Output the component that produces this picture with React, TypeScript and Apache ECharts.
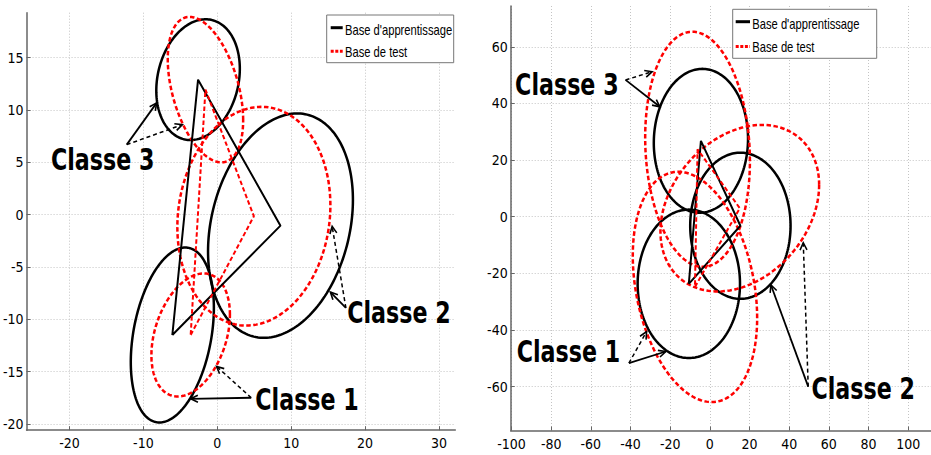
import React, { useEffect, useRef } from 'react';
import * as echarts from 'echarts';

const classNames = ['Classe 1', 'Classe 2', 'Classe 3'];
const legendNames = ["Base d'apprentissage", 'Base de test'];

// Left panel: per-class mean, half-extent along x / y, and x-y correlation
const trainMeanA = [[-6.08, -11.5], [8.55, -1.05], [-2.6, 12.9]];
const trainSpreadA = [[5.62, 8.36], [9.8, 10.72], [5.65, 5.77]];
const trainCorrA = [0.31, 0.23, 0.18];
const testMeanA = [[-3.6, -11.5], [4.95, -0.15], [-1.6, 11.95]];
const testSpreadA = [[5.31, 5.88], [10.35, 10.45], [5.1, 6.95]];
const testCorrA = [0.33, 0.1, -0.42];

// Right panel
const trainMeanB = [[-10.6, -23.7], [15.4, -3.2], [-4.5, 26.8]];
const trainSpreadB = [[25.8, 26.2], [25.3, 25.8], [23.75, 25.4]];
const trainCorrB = [0, 0, 0.03];
const testMeanB = [[-7.5, -24.8], [15.1, 3.0], [-6.2, 23.8]];
const testSpreadB = [[31.35, 40.65], [40, 29.4], [26.4, 41.5]];
const testCorrB = [-0.27, 0.28, -0.1];

// Class labels and their pointer arrows (tail, tip on training ellipse, tip on test ellipse)
const labelPosA = [[12.14, -17.7], [24.57, -9.42], [-15.5, 5.2]];
const arrowTailA = [[4.59, -17.5], [17.4, -8.92], [-12.25, 6.69]];
const arrowTrainA = [[-3.6, -17.6], [15.3, -7.4], [-8.2, 10.68]];
const arrowTestA = [[-0.1, -14.5], [15.54, -1.12], [-4.73, 8.6]];

const labelPosB = [[-71.3, -47.6], [77.3, -60.6], [-72.1, 46.7]];
const arrowTailB = [[-40.8, -51.7], [49.6, -60], [-42.5, 48.3]];
const arrowTrainB = [[-22.2, -47.6], [30.8, -24.1], [-25.2, 38.8]];
const arrowTestB = [[-31.9, -40.6], [47.1, -9.2], [-29.1, 51.2]];

// Axes
const xRangeA = [-25.8, 32.2];
const yRangeA = [-20.6, 19.3];
const xTicksA = [-20, -10, 0, 10, 20, 30];
const yTicksA = [-20, -15, -10, -5, 0, 5, 10, 15];
const xRangeB = [-100.4, 111.5];
const yRangeB = [-75.5, 74.4];
const xTicksB = [-100, -80, -60, -40, -20, 0, 20, 40, 60, 80, 100];
const yTicksB = [-60, -40, -20, 0, 20, 40, 60];

const RED = '#ff0000';
const BLACK = '#000000';
const RED_DASH = [4.5, 2.5];
const TICK_FONT = "'Liberation Sans Narrow', 'DejaVu Sans Condensed', 'Liberation Sans', Arial, sans-serif";

function ellipseSeries(mean: number[][], spread: number[][], corr: number[], grid: number, color: string, dash: number[] | null) {
  return {
    type: 'custom',
    xAxisIndex: grid,
    yAxisIndex: grid,
    dimensions: ['x', 'y', 'sx', 'sy', 'r'],
    encode: { x: 0, y: 1 },
    silent: true,
    data: mean.map((m, i) => [m[0], m[1], spread[i][0], spread[i][1], corr[i]]),
    renderItem: (_params: any, api: any) => {
      const cx = api.value(0);
      const cy = api.value(1);
      const sx = api.value(2);
      const sy = api.value(3);
      const d = Math.acos(api.value(4));
      const pts: number[][] = [];
      const n = 200;
      for (let k = 0; k <= n; k++) {
        const t = (k / n) * Math.PI * 2;
        pts.push(api.coord([cx + sx * Math.cos(t), cy + sy * Math.cos(t - d)]));
      }
      return {
        type: 'polyline',
        shape: { points: pts },
        style: { stroke: color, lineWidth: 2.5, fill: 'none', lineDash: dash },
      };
    },
  };
}

function triangleSeries(mean: number[][], grid: number, color: string, dash: number[] | null) {
  return {
    type: 'line',
    xAxisIndex: grid,
    yAxisIndex: grid,
    symbol: 'none',
    silent: true,
    data: [...mean, mean[0]],
    lineStyle: { color, width: 2, type: dash ? dash : 'solid' },
  };
}

function arrowSeries(tail: number[][], train: number[][], test: number[][], grid: number) {
  const rows: number[][] = [];
  tail.forEach((t, i) => {
    rows.push([t[0], t[1], train[i][0], train[i][1], 0]);
    rows.push([t[0], t[1], test[i][0], test[i][1], 1]);
  });
  return {
    type: 'custom',
    xAxisIndex: grid,
    yAxisIndex: grid,
    dimensions: ['x1', 'y1', 'x2', 'y2', 'dashed'],
    encode: { x: [0, 2], y: [1, 3] },
    silent: true,
    data: rows,
    renderItem: (_params: any, api: any) => {
      const a = api.coord([api.value(0), api.value(1)]);
      const b = api.coord([api.value(2), api.value(3)]);
      const dashed = api.value(4) === 1;
      const ang = Math.atan2(b[1] - a[1], b[0] - a[0]);
      const len = 8;
      const w = 0.45;
      const h1 = [b[0] - len * Math.cos(ang - w), b[1] - len * Math.sin(ang - w)];
      const h2 = [b[0] - len * Math.cos(ang + w), b[1] - len * Math.sin(ang + w)];
      return {
        type: 'group',
        children: [
          {
            type: 'line',
            shape: { x1: a[0], y1: a[1], x2: b[0], y2: b[1] },
            style: { stroke: BLACK, lineWidth: dashed ? 1.5 : 1.8, lineDash: dashed ? [4, 3] : null },
          },
          {
            type: 'polyline',
            shape: { points: [h1, b, h2] },
            style: { stroke: BLACK, lineWidth: 1.6, fill: 'none' },
          },
        ],
      };
    },
  };
}

function labelSeries(pos: number[][], grid: number) {
  return {
    type: 'custom',
    xAxisIndex: grid,
    yAxisIndex: grid,
    encode: { x: 0, y: 1 },
    silent: true,
    data: pos,
    renderItem: (params: any, api: any) => {
      const p = api.coord([api.value(0), api.value(1)]);
      return {
        type: 'text',
        x: p[0],
        y: p[1],
        scaleX: 0.74,
        style: {
          text: classNames[params.dataIndex],
          fontFamily: "'DejaVu Sans', sans-serif",
          fontWeight: 'bold',
          fontSize: 30,
          fill: BLACK,
          align: 'center',
          verticalAlign: 'middle',
        },
      };
    },
  };
}

function xAxis(grid: number, range: number[], ticks: number[]) {
  return {
    type: 'value',
    gridIndex: grid,
    min: range[0],
    max: range[1],
    axisLine: { show: true, onZero: false, lineStyle: { color: '#666', width: 1.5 } },
    axisTick: { show: true, inside: true, length: 4, customValues: ticks, lineStyle: { color: '#666' } },
    axisLabel: { customValues: ticks, color: '#000', fontSize: 14, fontFamily: TICK_FONT, margin: 6 },
    splitLine: { show: true, lineStyle: { color: '#c4c4c4', width: 1, type: [1, 2] } },
  };
}

function yAxis(grid: number, range: number[], ticks: number[]) {
  return {
    type: 'value',
    gridIndex: grid,
    min: range[0],
    max: range[1],
    axisLine: { show: true, onZero: false, lineStyle: { color: '#666', width: 1.5 } },
    axisTick: { show: true, inside: true, length: 4, customValues: ticks, lineStyle: { color: '#666' } },
    axisLabel: { customValues: ticks, color: '#000', fontSize: 14, fontFamily: TICK_FONT, margin: 3 },
    splitLine: { show: true, lineStyle: { color: '#c4c4c4', width: 1, type: [1, 2] } },
  };
}

function legendBox(x: number, y: number, w: number, h: number, lineX: number[], rows: number[], textX: number) {
  return [
    {
      type: 'rect',
      shape: { x, y, width: w, height: h },
      style: { fill: '#fff', stroke: '#777', lineWidth: 1 },
      z: 10,
    },
    {
      type: 'line',
      shape: { x1: lineX[0], y1: rows[0] - 2.5, x2: lineX[1], y2: rows[0] - 2.5 },
      style: { stroke: BLACK, lineWidth: 3 },
      z: 11,
    },
    {
      type: 'line',
      shape: { x1: lineX[0], y1: rows[1] - 1, x2: lineX[1], y2: rows[1] - 1 },
      style: { stroke: RED, lineWidth: 3, lineDash: [3, 1.6] },
      z: 11,
    },
    ...legendNames.map((name, i) => ({
      type: 'text',
      x: textX,
      y: rows[i],
      scaleX: 0.8,
      z: 11,
      style: {
        text: name,
        fontFamily: "'Liberation Sans', Arial, sans-serif",
        fontSize: 14,
        fill: BLACK,
        align: 'left',
        verticalAlign: 'middle',
      },
    })),
  ];
}

export default function App() {
  const ref = useRef<HTMLDivElement>(null);

  useEffect(() => {
    if (!ref.current) return;
    const chart = echarts.init(ref.current, null, { renderer: 'svg' });
    chart.setOption({
      animation: false,
      backgroundColor: '#fff',
      grid: [
        { left: 26, top: 12.7, width: 429.3, height: 417.5 },
        { left: 510.7, top: 6, width: 420.3, height: 424.5 },
      ],
      xAxis: [xAxis(0, xRangeA, xTicksA), xAxis(1, xRangeB, xTicksB)],
      yAxis: [yAxis(0, yRangeA, yTicksA), yAxis(1, yRangeB, yTicksB)],
      series: [
        ellipseSeries(trainMeanA, trainSpreadA, trainCorrA, 0, BLACK, null),
        ellipseSeries(testMeanA, testSpreadA, testCorrA, 0, RED, RED_DASH),
        triangleSeries(trainMeanA, 0, BLACK, null),
        triangleSeries(testMeanA, 0, RED, RED_DASH),
        arrowSeries(arrowTailA, arrowTrainA, arrowTestA, 0),
        labelSeries(labelPosA, 0),
        ellipseSeries(trainMeanB, trainSpreadB, trainCorrB, 1, BLACK, null),
        ellipseSeries(testMeanB, testSpreadB, testCorrB, 1, RED, RED_DASH),
        triangleSeries(trainMeanB, 1, BLACK, null),
        triangleSeries(testMeanB, 1, RED, RED_DASH),
        arrowSeries(arrowTailB, arrowTrainB, arrowTestB, 1),
        labelSeries(labelPosB, 1),
      ],
      graphic: [
        ...legendBox(326.7, 15, 127, 47.7, [330.7, 342.7], [30.2, 52.2], 345),
        ...legendBox(732.7, 9.3, 144, 49, [735.7, 750], [24.2, 47.5], 752.3),
      ],
    });
    return () => chart.dispose();
  }, []);

  return (
    <div
      ref={ref}
      style={{ position: 'fixed', left: 0, top: 0, width: 931, height: 455, background: '#fff' }}
    />
  );
}
